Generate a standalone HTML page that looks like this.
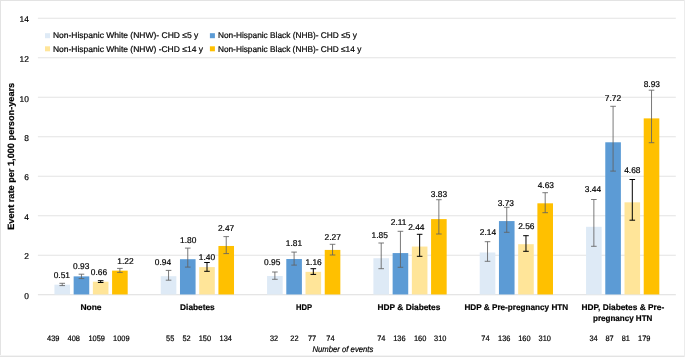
<!DOCTYPE html>
<html lang="en"><head><meta charset="utf-8"><title>Event rate per 1,000 person-years</title>
<style>
html,body{margin:0;padding:0;background:#fff;}
svg{display:block;will-change:transform;}
text{font-family:"Liberation Sans",sans-serif;fill:#000;stroke:#000;stroke-width:0.2px;text-rendering:geometricPrecision;}
.n{font-size:8.4px;}
.b{font-size:8.4px;font-weight:bold;fill:#000;}
.i{font-size:8.4px;font-style:italic;}
.c{font-size:7.9px;}
</style></head><body>
<svg width="685" height="357" viewBox="0 0 685 357">
<rect x="0" y="0" width="685" height="357" fill="#fff"/>
<rect x="0" y="0" width="685" height="1" fill="#e3e3e3"/>
<rect x="0" y="0" width="1" height="357" fill="#e3e3e3"/>
<rect x="0" y="355" width="685" height="1" fill="#f4f4f4"/>
<rect x="0" y="356" width="685" height="1" fill="#e3e3e3"/>
<rect x="684" y="0" width="1" height="357" fill="#ececec"/>
<defs><filter id="soft" x="0" y="0" width="685" height="357" filterUnits="userSpaceOnUse"><feGaussianBlur stdDeviation="0.32"/></filter></defs>
<g filter="url(#soft)">
<rect x="37.9" y="294.25" width="637.95" height="1" fill="#dddddd"/>
<text class="n" x="28.9" y="298.9" text-anchor="end">0</text>
<rect x="37.9" y="254.75" width="637.95" height="1" fill="#e4e4e4"/>
<text class="n" x="28.9" y="259.4" text-anchor="end">2</text>
<rect x="37.9" y="215.25" width="637.95" height="1" fill="#e4e4e4"/>
<text class="n" x="28.9" y="219.9" text-anchor="end">4</text>
<rect x="37.9" y="175.75" width="637.95" height="1" fill="#e4e4e4"/>
<text class="n" x="28.9" y="180.4" text-anchor="end">6</text>
<rect x="37.9" y="136.25" width="637.95" height="1" fill="#e4e4e4"/>
<text class="n" x="28.9" y="140.9" text-anchor="end">8</text>
<rect x="37.9" y="96.75" width="637.95" height="1" fill="#e4e4e4"/>
<text class="n" x="28.9" y="101.5" text-anchor="end">10</text>
<rect x="37.9" y="57.25" width="637.95" height="1" fill="#e4e4e4"/>
<text class="n" x="28.9" y="62.0" text-anchor="end">12</text>
<rect x="37.9" y="17.75" width="637.95" height="1" fill="#e4e4e4"/>
<text class="n" x="28.9" y="22.4" text-anchor="end">14</text>
<rect x="54.43" y="284.68" width="15.60" height="9.77" fill="#DEEAF6"/>
<rect x="73.65" y="276.38" width="15.60" height="18.07" fill="#5B9BD5"/>
<rect x="92.87" y="281.71" width="15.60" height="12.74" fill="#FFE599"/>
<rect x="112.09" y="270.65" width="15.60" height="23.80" fill="#FFC000"/>
<path d="M62.23 283.30V285.60M59.43 283.30h5.6M59.43 285.60h5.6" stroke="#626262" stroke-width="0.85" fill="none"/>
<path d="M81.45 274.20V278.60M78.65 274.20h5.6M78.65 278.60h5.6" stroke="#626262" stroke-width="0.85" fill="none"/>
<path d="M100.67 280.70V282.50M97.87 280.70h5.6M97.87 282.50h5.6" stroke="#000000" stroke-width="1.0" fill="none"/>
<path d="M119.89 268.40V272.40M117.09 268.40h5.6M117.09 272.40h5.6" stroke="#626262" stroke-width="0.85" fill="none"/>
<text class="n" x="61.8" y="277.6" text-anchor="middle">0.51</text>
<text class="n" x="81.2" y="269.1" text-anchor="middle">0.93</text>
<text class="n" x="98.9" y="274.5" text-anchor="middle">0.66</text>
<text class="n" x="125.4" y="264.3" text-anchor="middle">1.22</text>
<rect x="160.76" y="276.19" width="15.60" height="18.26" fill="#DEEAF6"/>
<rect x="179.98" y="259.20" width="15.60" height="35.25" fill="#5B9BD5"/>
<rect x="199.20" y="267.10" width="15.60" height="27.35" fill="#FFE599"/>
<rect x="218.42" y="245.97" width="15.60" height="48.48" fill="#FFC000"/>
<path d="M168.56 270.40V280.20M165.76 270.40h5.6M165.76 280.20h5.6" stroke="#626262" stroke-width="0.85" fill="none"/>
<path d="M187.78 248.10V267.10M184.98 248.10h5.6M184.98 267.10h5.6" stroke="#626262" stroke-width="0.85" fill="none"/>
<path d="M207.00 262.50V271.30M204.20 262.50h5.6M204.20 271.30h5.6" stroke="#000000" stroke-width="1.0" fill="none"/>
<path d="M226.22 236.60V253.60M223.42 236.60h5.6M223.42 253.60h5.6" stroke="#626262" stroke-width="0.85" fill="none"/>
<text class="n" x="163.0" y="264.5" text-anchor="middle">0.94</text>
<text class="n" x="188.2" y="242.8" text-anchor="middle">1.80</text>
<text class="n" x="207.0" y="259.9" text-anchor="middle">1.40</text>
<text class="n" x="226.1" y="231.1" text-anchor="middle">2.47</text>
<rect x="267.08" y="275.99" width="15.60" height="18.46" fill="#DEEAF6"/>
<rect x="286.30" y="259.00" width="15.60" height="35.45" fill="#5B9BD5"/>
<rect x="305.52" y="271.84" width="15.60" height="22.61" fill="#FFE599"/>
<rect x="324.74" y="249.92" width="15.60" height="44.53" fill="#FFC000"/>
<path d="M274.88 272.00V279.30M272.08 272.00h5.6M272.08 279.30h5.6" stroke="#626262" stroke-width="0.85" fill="none"/>
<path d="M294.10 252.10V265.10M291.30 252.10h5.6M291.30 265.10h5.6" stroke="#626262" stroke-width="0.85" fill="none"/>
<path d="M313.32 268.70V274.40M310.52 268.70h5.6M310.52 274.40h5.6" stroke="#000000" stroke-width="1.0" fill="none"/>
<path d="M332.54 244.30V255.00M329.74 244.30h5.6M329.74 255.00h5.6" stroke="#626262" stroke-width="0.85" fill="none"/>
<text class="n" x="272.2" y="264.5" text-anchor="middle">0.95</text>
<text class="n" x="293.9" y="245.5" text-anchor="middle">1.81</text>
<text class="n" x="313.6" y="264.5" text-anchor="middle">1.16</text>
<text class="n" x="332.7" y="239.5" text-anchor="middle">2.27</text>
<rect x="373.41" y="258.21" width="15.60" height="36.24" fill="#DEEAF6"/>
<rect x="392.63" y="253.08" width="15.60" height="41.37" fill="#5B9BD5"/>
<rect x="411.85" y="246.56" width="15.60" height="47.89" fill="#FFE599"/>
<rect x="431.07" y="219.11" width="15.60" height="75.34" fill="#FFC000"/>
<path d="M381.21 243.00V268.70M378.41 243.00h5.6M378.41 268.70h5.6" stroke="#626262" stroke-width="0.85" fill="none"/>
<path d="M400.43 231.30V267.30M397.63 231.30h5.6M397.63 267.30h5.6" stroke="#626262" stroke-width="0.85" fill="none"/>
<path d="M419.65 234.30V256.30M416.85 234.30h5.6M416.85 256.30h5.6" stroke="#000000" stroke-width="1.0" fill="none"/>
<path d="M438.87 199.70V234.00M436.07 199.70h5.6M436.07 234.00h5.6" stroke="#626262" stroke-width="0.85" fill="none"/>
<text class="n" x="379.7" y="238.3" text-anchor="middle">1.85</text>
<text class="n" x="398.7" y="224.6" text-anchor="middle">2.11</text>
<text class="n" x="416.3" y="230.3" text-anchor="middle">2.44</text>
<text class="n" x="439.0" y="196.9" text-anchor="middle">3.83</text>
<rect x="479.73" y="252.49" width="15.60" height="41.96" fill="#DEEAF6"/>
<rect x="498.95" y="221.08" width="15.60" height="73.37" fill="#5B9BD5"/>
<rect x="518.17" y="244.19" width="15.60" height="50.26" fill="#FFE599"/>
<rect x="537.39" y="203.31" width="15.60" height="91.14" fill="#FFC000"/>
<path d="M487.53 241.70V261.30M484.73 241.70h5.6M484.73 261.30h5.6" stroke="#626262" stroke-width="0.85" fill="none"/>
<path d="M506.75 207.30V232.30M503.95 207.30h5.6M503.95 232.30h5.6" stroke="#626262" stroke-width="0.85" fill="none"/>
<path d="M525.97 235.70V251.30M523.17 235.70h5.6M523.17 251.30h5.6" stroke="#000000" stroke-width="1.0" fill="none"/>
<path d="M545.19 192.70V212.70M542.39 192.70h5.6M542.39 212.70h5.6" stroke="#626262" stroke-width="0.85" fill="none"/>
<text class="n" x="488.0" y="234.6" text-anchor="middle">2.14</text>
<text class="n" x="505.8" y="205.6" text-anchor="middle">3.73</text>
<text class="n" x="526.3" y="228.6" text-anchor="middle">2.56</text>
<text class="n" x="545.8" y="187.6" text-anchor="middle">4.63</text>
<rect x="586.06" y="226.81" width="15.60" height="67.64" fill="#DEEAF6"/>
<rect x="605.28" y="142.28" width="15.60" height="152.17" fill="#5B9BD5"/>
<rect x="624.50" y="202.32" width="15.60" height="92.13" fill="#FFE599"/>
<rect x="643.72" y="118.38" width="15.60" height="176.07" fill="#FFC000"/>
<path d="M593.86 199.50V246.30M591.06 199.50h5.6M591.06 246.30h5.6" stroke="#626262" stroke-width="0.85" fill="none"/>
<path d="M613.08 106.30V171.10M610.28 106.30h5.6M610.28 171.10h5.6" stroke="#626262" stroke-width="0.85" fill="none"/>
<path d="M632.30 179.50V220.20M629.50 179.50h5.6M629.50 220.20h5.6" stroke="#000000" stroke-width="1.0" fill="none"/>
<path d="M651.52 90.20V142.70M648.72 90.20h5.6M648.72 142.70h5.6" stroke="#626262" stroke-width="0.85" fill="none"/>
<text class="n" x="593.0" y="192.3" text-anchor="middle">3.44</text>
<text class="n" x="612.9" y="100.9" text-anchor="middle">7.72</text>
<text class="n" x="632.3" y="172.6" text-anchor="middle">4.68</text>
<text class="n" x="651.8" y="87.2" text-anchor="middle">8.93</text>
<text class="b" x="91.0" y="309.8" text-anchor="middle" textLength="21.1" lengthAdjust="spacingAndGlyphs">None</text>
<text class="b" x="197.4" y="309.8" text-anchor="middle" textLength="34.6" lengthAdjust="spacingAndGlyphs">Diabetes</text>
<text class="b" x="304.0" y="309.8" text-anchor="middle" textLength="16.1" lengthAdjust="spacingAndGlyphs">HDP</text>
<text class="b" x="409.0" y="309.8" text-anchor="middle" textLength="62.8" lengthAdjust="spacingAndGlyphs">HDP &amp; Diabetes</text>
<text class="b" x="516.3" y="309.8" text-anchor="middle" textLength="103.8" lengthAdjust="spacingAndGlyphs">HDP &amp; Pre-pregnancy HTN</text>
<text class="b" x="622.9" y="309.8" text-anchor="middle" textLength="82.6" lengthAdjust="spacingAndGlyphs">HDP, Diabetes &amp; Pre-</text>
<text class="b" x="622.7" y="321.3" text-anchor="middle" textLength="59.4" lengthAdjust="spacingAndGlyphs">pregnancy HTN</text>
<text class="c" x="53.3" y="340.9" text-anchor="middle" textLength="12.4" lengthAdjust="spacingAndGlyphs">439</text>
<text class="c" x="73.7" y="340.9" text-anchor="middle" textLength="12.4" lengthAdjust="spacingAndGlyphs">408</text>
<text class="c" x="96.7" y="340.9" text-anchor="middle" textLength="16.5" lengthAdjust="spacingAndGlyphs">1059</text>
<text class="c" x="121.3" y="340.9" text-anchor="middle" textLength="16.5" lengthAdjust="spacingAndGlyphs">1009</text>
<text class="c" x="170.2" y="340.9" text-anchor="middle" textLength="8.2" lengthAdjust="spacingAndGlyphs">55</text>
<text class="c" x="186.6" y="340.9" text-anchor="middle" textLength="8.2" lengthAdjust="spacingAndGlyphs">52</text>
<text class="c" x="204.9" y="340.9" text-anchor="middle" textLength="12.4" lengthAdjust="spacingAndGlyphs">150</text>
<text class="c" x="225.8" y="340.9" text-anchor="middle" textLength="12.4" lengthAdjust="spacingAndGlyphs">134</text>
<text class="c" x="274.1" y="340.9" text-anchor="middle" textLength="8.2" lengthAdjust="spacingAndGlyphs">32</text>
<text class="c" x="294.4" y="340.9" text-anchor="middle" textLength="8.2" lengthAdjust="spacingAndGlyphs">22</text>
<text class="c" x="312.1" y="340.9" text-anchor="middle" textLength="8.2" lengthAdjust="spacingAndGlyphs">77</text>
<text class="c" x="330.4" y="340.9" text-anchor="middle" textLength="8.2" lengthAdjust="spacingAndGlyphs">74</text>
<text class="c" x="381.3" y="340.9" text-anchor="middle" textLength="8.2" lengthAdjust="spacingAndGlyphs">74</text>
<text class="c" x="399.4" y="340.9" text-anchor="middle" textLength="12.4" lengthAdjust="spacingAndGlyphs">136</text>
<text class="c" x="420.1" y="340.9" text-anchor="middle" textLength="12.4" lengthAdjust="spacingAndGlyphs">160</text>
<text class="c" x="440.2" y="340.9" text-anchor="middle" textLength="12.4" lengthAdjust="spacingAndGlyphs">310</text>
<text class="c" x="485.4" y="340.9" text-anchor="middle" textLength="8.2" lengthAdjust="spacingAndGlyphs">74</text>
<text class="c" x="504.2" y="340.9" text-anchor="middle" textLength="12.4" lengthAdjust="spacingAndGlyphs">136</text>
<text class="c" x="524.4" y="340.9" text-anchor="middle" textLength="12.4" lengthAdjust="spacingAndGlyphs">160</text>
<text class="c" x="544.8" y="340.9" text-anchor="middle" textLength="12.4" lengthAdjust="spacingAndGlyphs">310</text>
<text class="c" x="593.5" y="340.9" text-anchor="middle" textLength="8.2" lengthAdjust="spacingAndGlyphs">34</text>
<text class="c" x="609.6" y="340.9" text-anchor="middle" textLength="8.2" lengthAdjust="spacingAndGlyphs">87</text>
<text class="c" x="625.8" y="340.9" text-anchor="middle" textLength="8.2" lengthAdjust="spacingAndGlyphs">81</text>
<text class="c" x="644.2" y="340.9" text-anchor="middle" textLength="12.4" lengthAdjust="spacingAndGlyphs">179</text>
<text class="i" x="312.5" y="351.5" textLength="60.8" lengthAdjust="spacingAndGlyphs">Number of events</text>
<rect x="45.0" y="33.2" width="5" height="5" fill="#DEEAF6"/>
<text class="n" x="52.9" y="38.4" textLength="145.4" lengthAdjust="spacingAndGlyphs">Non-Hispanic White (NHW)- CHD ≤5 y</text>
<rect x="45.0" y="46.3" width="5" height="5" fill="#FFE599"/>
<text class="n" x="52.9" y="51.5" textLength="150.1" lengthAdjust="spacingAndGlyphs">Non-Hispanic White (NHW) -CHD ≤14 y</text>
<rect x="209.9" y="33.2" width="5" height="5" fill="#5B9BD5"/>
<text class="n" x="217.9" y="38.4" textLength="138.9" lengthAdjust="spacingAndGlyphs">Non-Hispanic Black (NHB)- CHD ≤5 y</text>
<rect x="209.9" y="46.3" width="5" height="5" fill="#FFC000"/>
<text class="n" x="217.9" y="51.5" textLength="143.4" lengthAdjust="spacingAndGlyphs">Non-Hispanic Black (NHB)- CHD ≤14 y</text>
<text class="b" style="font-size:9.1px" transform="translate(13.6 156.3) rotate(-90)" text-anchor="middle" textLength="147" lengthAdjust="spacingAndGlyphs">Event rate per 1,000 person-years</text>
</g>
</svg>
</body></html>
